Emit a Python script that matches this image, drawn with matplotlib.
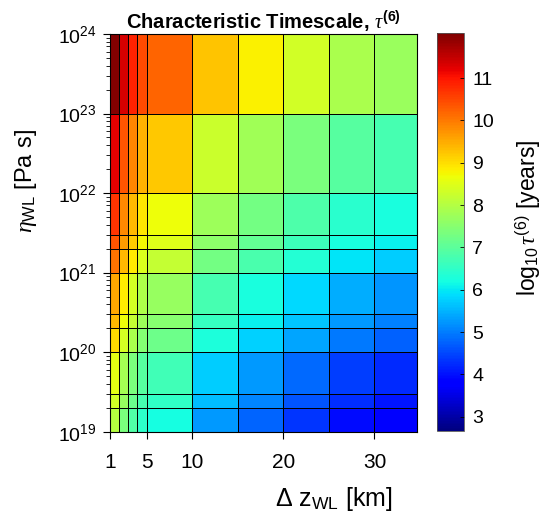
import numpy as np
import matplotlib
matplotlib.use("Agg")
import matplotlib.pyplot as plt
from matplotlib.ticker import LogLocator, NullFormatter

plt.rcParams['font.family'] = ['Liberation Sans', 'DejaVu Sans']
plt.rcParams['mathtext.fontset'] = 'custom'
plt.rcParams['mathtext.rm'] = 'Liberation Sans'
plt.rcParams['mathtext.it'] = 'Liberation Serif:italic'
plt.rcParams['mathtext.bf'] = 'Liberation Sans:bold'

# Zellgrenzen
dz_edges = [1, 2, 3, 4, 5, 10, 15, 20, 25, 30, 34.7]   # km
eta_edges = [1e19, 2e19, 3e19, 1e20, 2e20, 3e20, 1e21, 2e21, 3e21, 1e22, 1e23, 1e24]  # Pa s

# log10 tau^(6) [years], Zeilen von unten (eta klein) nach oben
log_tau = [
    [8.05, 7.36, 6.88, 6.45, 6.20, 5.27, 4.78, 4.35, 3.95, 3.75],
    [8.35, 7.66, 7.18, 6.75, 6.50, 5.57, 5.08, 4.65, 4.25, 4.05],
    [8.55, 7.84, 7.36, 6.93, 6.68, 5.75, 5.26, 4.83, 4.43, 4.23],
    [9.05, 8.36, 7.88, 7.45, 7.20, 6.27, 5.78, 5.35, 4.95, 4.75],
    [9.35, 8.66, 8.18, 7.75, 7.50, 6.57, 6.08, 5.65, 5.25, 5.05],
    [9.55, 8.84, 8.36, 7.93, 7.68, 6.75, 6.26, 5.83, 5.43, 5.23],
    [10.05, 9.36, 8.88, 8.45, 8.20, 7.27, 6.78, 6.35, 5.95, 5.75],
    [10.35, 9.66, 9.18, 8.75, 8.50, 7.57, 7.08, 6.65, 6.25, 6.05],
    [10.70, 9.84, 9.36, 8.93, 8.68, 7.75, 7.26, 6.83, 6.43, 6.23],
    [11.25, 10.36, 9.88, 9.45, 9.20, 8.27, 7.78, 7.35, 6.95, 6.75],
    [12.00, 11.36, 10.88, 10.45, 10.20, 9.27, 8.80, 8.35, 7.90, 7.72],
]
c_min, c_max = 2.67, 12.06

x_ticks = [1, 5, 10, 20, 30]
cbar_ticks = [3, 4, 5, 6, 7, 8, 9, 10, 11]

fig = plt.figure(figsize=(5.42, 5.15), dpi=100)
ax = fig.add_axes([0.203, 0.1617, 0.567, 0.7723])
cax = fig.add_axes([0.8057, 0.1637, 0.0498, 0.7716])

mesh = ax.pcolormesh(dz_edges, eta_edges, np.array(log_tau), cmap='jet',
                     vmin=c_min, vmax=c_max, edgecolors='k', linewidth=0.6)
ax.set_yscale('log')
ax.set_xlim(dz_edges[0], dz_edges[-1])
ax.set_ylim(eta_edges[0], eta_edges[-1])

ax.set_xticks(x_ticks)
ax.set_xticklabels([str(t) for t in x_ticks])
ax.yaxis.set_major_locator(LogLocator(base=10, numticks=10))
ax.yaxis.set_minor_locator(LogLocator(base=10, subs=np.arange(2, 10), numticks=20))
ax.yaxis.set_minor_formatter(NullFormatter())
ax.tick_params(which='major', direction='out', length=5, width=0.8,
               top=False, right=False)
ax.tick_params(which='minor', direction='out', length=3, width=0.6,
               top=False, right=False)
ax.tick_params(axis='x', labelsize=15, pad=10)
ax.tick_params(axis='y', labelsize=14, pad=5)
for sp in ax.spines.values():
    sp.set_linewidth(0.8)

ax.set_title(r'Characteristic Timescale, $\tau^{\mathbf{(6)}}$',
             fontsize=14.5, fontweight='bold', pad=3)
ax.set_xlabel(r'Δ z$_{\rm WL}$ [km]', fontsize=18)
ax.xaxis.set_label_coords(0.727, -0.135)
ax.set_ylabel(r'$\eta_{\rm WL}$ [Pa s]', fontsize=17)
ax.yaxis.set_label_coords(-0.23, 0.63)

cbar = fig.colorbar(mesh, cax=cax)
cbar.set_ticks(cbar_ticks)
cbar.ax.tick_params(direction='in', length=3, width=0.6, labelsize=14, pad=6)
cbar.outline.set_linewidth(0.6)
cbar.outline.set_edgecolor('#555555')
cbar.set_label(r'log$_{10}\,\tau^{(6)}$ [years]', fontsize=16.5)
cbar.ax.yaxis.set_label_coords(2.85, 0.535)

fig.savefig('out.png', dpi=100)
